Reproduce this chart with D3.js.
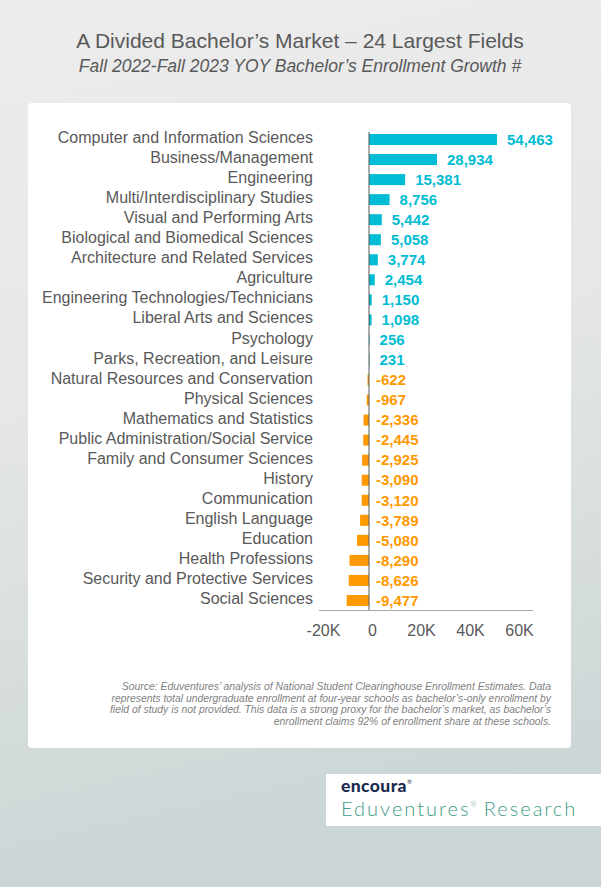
<!DOCTYPE html>
<html>
<head>
<meta charset="utf-8">
<script src="https://cdn.jsdelivr.net/npm/d3@7/dist/d3.min.js"></script>
<style>
html,body{margin:0;padding:0;}
body{width:601px;height:887px;overflow:hidden;}
</style>
</head>
<body>
<script>
const categories = [
  "Computer and Information Sciences","Business/Management","Engineering","Multi/Interdisciplinary Studies",
  "Visual and Performing Arts","Biological and Biomedical Sciences","Architecture and Related Services","Agriculture",
  "Engineering Technologies/Technicians","Liberal Arts and Sciences","Psychology","Parks, Recreation, and Leisure",
  "Natural Resources and Conservation","Physical Sciences","Mathematics and Statistics","Public Administration/Social Service",
  "Family and Consumer Sciences","History","Communication","English Language","Education","Health Professions",
  "Security and Protective Services","Social Sciences"
];
const values = [54463,28934,15381,8756,5442,5058,3774,2454,1150,1098,256,231,-622,-967,-2336,-2445,-2925,-3090,-3120,-3789,-5080,-8290,-8626,-9477];
const tickValues = [-20000,0,20000,40000,60000];
const tickLabels = ["-20K","0","20K","40K","60K"];
const title = "A Divided Bachelor\u2019s Market \u2013 24 Largest Fields";
const subtitle = "Fall 2022-Fall 2023 YOY Bachelor\u2019s Enrollment Growth #";
const sourceLines = [
  "Source: Eduventures\u2019 analysis of National Student Clearinghouse Enrollment Estimates. Data",
  "represents total undergraduate enrollment at four-year schools as bachelor\u2019s-only enrollment by",
  "field of study is not provided. This data is a strong proxy for the bachelor\u2019s market, as bachelor\u2019s",
  "enrollment claims 92% of enrollment share at these schools."
];

const W = 601, H = 887;
const svg = d3.select("body").append("svg").attr("width", W).attr("height", H)
  .style("font-family", "'Liberation Sans', Arial, sans-serif");

const defs = svg.append("defs");
const grad = defs.append("linearGradient").attr("id","bg").attr("x1",0).attr("y1",0).attr("x2",0.15).attr("y2",1);
grad.append("stop").attr("offset","0%").attr("stop-color","#ececec");
grad.append("stop").attr("offset","45%").attr("stop-color","#e6e7e7");
grad.append("stop").attr("offset","100%").attr("stop-color","#cbd5d5");
svg.append("rect").attr("width",W).attr("height",H).attr("fill","url(#bg)");

// Title
svg.append("text").attr("x",300).attr("y",48).attr("text-anchor","middle")
  .attr("font-size",21).attr("fill","#595959").text(title);
svg.append("text").attr("x",300).attr("y",72).attr("text-anchor","middle")
  .attr("font-size",17.5).attr("font-style","italic").attr("fill","#595959").text(subtitle);

// Panel
svg.append("rect").attr("x",28).attr("y",103).attr("width",543).attr("height",645)
  .attr("rx",4).attr("fill","#ffffff");

// Scales
const x = d3.scaleLinear().domain([0, 54463]).range([369, 497]);
const xAxisScale = d3.scaleLinear().domain([-20000, 60000]).range([323, 519]);
const y = d3.scaleBand().domain(categories).range([129.5, 610.5]).paddingInner(0.45).paddingOuter(0.225);

const cyan = "#00bcd4", orange = "#ff9900";

// bars
svg.append("g").selectAll("rect").data(values).join("rect")
  .attr("x", d => x(Math.min(0,d)))
  .attr("width", d => Math.abs(x(d)-x(0)))
  .attr("y", (d,i) => y(categories[i]))
  .attr("height", y.bandwidth())
  .attr("fill", d => d >= 0 ? cyan : orange);

// zero line
svg.append("line").attr("x1",x(0)).attr("x2",x(0)).attr("y1",132).attr("y2",610.5)
  .attr("stroke","#595959").attr("stroke-width",1);

// bottom axis line
svg.append("line").attr("x1",319).attr("x2",533).attr("y1",610.5).attr("y2",610.5)
  .attr("stroke","#a6a6a6").attr("stroke-width",1.2);

// category labels
svg.append("g").selectAll("text").data(categories).join("text")
  .attr("x",313).attr("y", d => y(d)+y.bandwidth()/2 - 2)
  .attr("dy","0.35em").attr("text-anchor","end")
  .attr("font-size",16).attr("fill","#595959").text(d => d);

// value labels
const fmt = d => d3.format(",")(d).replace("\u2212","-");
svg.append("g").selectAll("text").data(values).join("text")
  .attr("x", d => d >= 0 ? x(d)+10 : x(0)+7)
  .attr("y", (d,i) => y(categories[i])+y.bandwidth()/2)
  .attr("dy","0.35em").attr("font-size",15).attr("font-weight","bold")
  .attr("fill", d => d >= 0 ? cyan : orange)
  .text(d => fmt(d));

// axis tick labels
const axis = d3.axisBottom(xAxisScale).tickValues(tickValues)
  .tickFormat((d,i) => tickLabels[i]).tickSize(0).tickPadding(0);
const ga = svg.append("g").attr("transform","translate(0,625)").call(axis);
ga.select(".domain").remove();
ga.selectAll("text").attr("font-size",16).attr("fill","#595959")
  .attr("font-family","'Liberation Sans', Arial, sans-serif");

// source
svg.append("g").selectAll("text").data(sourceLines).join("text")
  .attr("x",551).attr("y",(d,i)=>690+i*11.5).attr("text-anchor","end")
  .attr("font-size",10.4).attr("font-style","italic").attr("fill","#7f7f7f").text(d=>d);

// logo
svg.append("rect").attr("x",326).attr("y",774).attr("width",275).attr("height",52).attr("fill","#ffffff");
const e = svg.append("text").attr("x",341).attr("y",792).attr("font-family","Lato, sans-serif")
  .attr("font-weight",900).attr("font-size",17.5).attr("letter-spacing",0.4).attr("fill","#1b2a4e");
e.append("tspan").text("encoura");
e.append("tspan").attr("font-size",6).attr("dy",-8).attr("font-weight",400).text("\u00ae");
const t = svg.append("text").attr("x",341).attr("y",816).attr("font-family","Lato, sans-serif")
  .attr("font-weight",300).attr("font-size",20).attr("letter-spacing",2).attr("fill","#3f9a8a");
t.append("tspan").text("Eduventures");
t.append("tspan").attr("font-size",7).attr("dy",-9).attr("letter-spacing",0).text("\u00ae");
t.append("tspan").attr("dy",9).text(" Research");
</script>
</body>
</html>
